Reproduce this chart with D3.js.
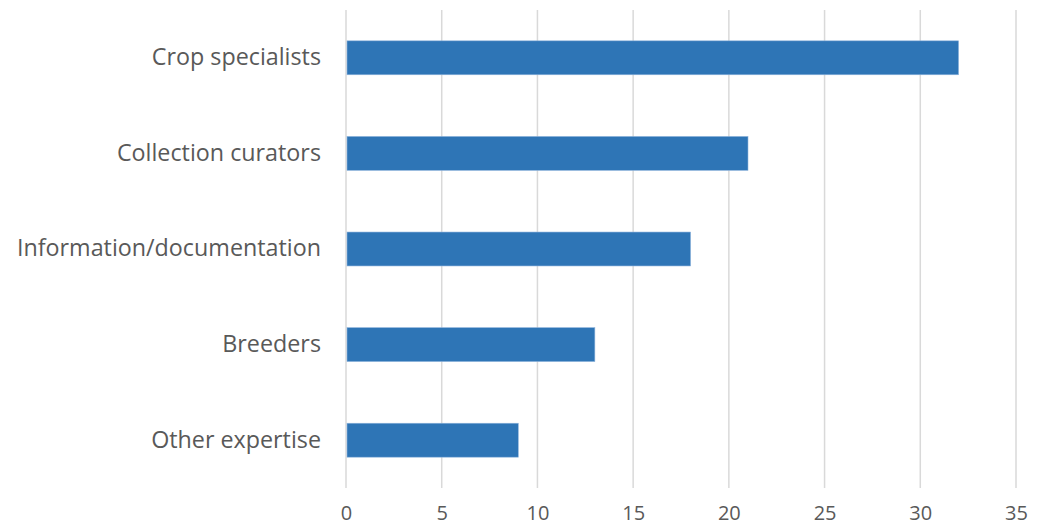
<!DOCTYPE html>
<html>
<head>
<meta charset="utf-8">
<script src="https://cdn.jsdelivr.net/npm/d3@7"></script>
<style>
  body { margin: 0; background: #fff; }
  text { font-family: "Open Sans", "Noto Sans", sans-serif; fill: #595959; }
</style>
</head>
<body>
<svg width="1037" height="528"></svg>
<script>
var categories = ['Crop specialists', 'Collection curators', 'Information/documentation', 'Breeders', 'Other expertise'];
var values = [32, 21, 18, 13, 9];
var xTicks = [0, 5, 10, 15, 20, 25, 30, 35];

var svg = d3.select('svg');
var margin = {top: 10, right: 21, bottom: 40, left: 346};
var width = 1037 - margin.left - margin.right;
var height = 528 - margin.top - margin.bottom;

var g = svg.append('g').attr('transform', 'translate(' + margin.left + ',' + margin.top + ')');

var x = d3.scaleLinear().domain([0, 35]).range([0, width]);
var y = d3.scaleBand().domain(categories).range([0, height]).paddingInner(0.645).paddingOuter(0.3225);

// gridlines
g.selectAll('line.grid')
    .data(xTicks)
  .enter().append('line')
    .attr('class', 'grid')
    .attr('x1', function(d){ return x(d); })
    .attr('x2', function(d){ return x(d); })
    .attr('y1', 0)
    .attr('y2', height)
    .attr('stroke', '#d9d9d9')
    .attr('stroke-width', 1.5);

g.selectAll('rect')
    .data(values)
  .enter().append('rect')
    .attr('x', x(0) + 1)
    .attr('y', function(d, i){ return y(categories[i]); })
    .attr('width', function(d){ return x(d) - x(0) - 1; })
    .attr('height', y.bandwidth())
    .attr('fill', '#2E75B6')
    .attr('stroke', '#8fb4dc')
    .attr('stroke-width', 0.6);

var xAxis = g.append('g')
    .attr('transform', 'translate(0,' + height + ')')
    .call(d3.axisBottom(x).tickValues(xTicks).tickSize(0).tickPadding(18));
xAxis.select('.domain').remove();
xAxis.selectAll('text').style('font-size', '20px').attr('fill', '#595959');

var yAxis = g.append('g')
    .call(d3.axisLeft(y).tickSize(0).tickPadding(25));
yAxis.select('.domain').remove();
yAxis.selectAll('text').style('font-size', '23.3px').attr('fill', '#595959');
</script>
</body>
</html>
